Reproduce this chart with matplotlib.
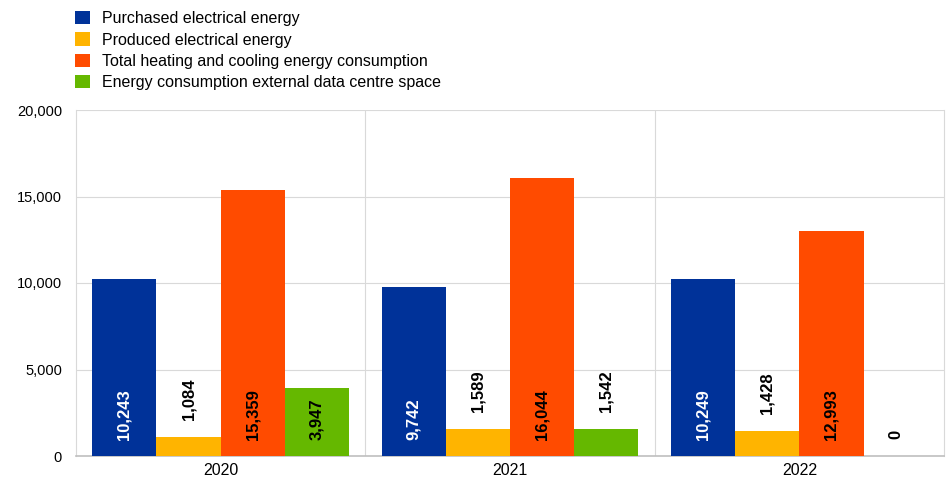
import matplotlib
matplotlib.use("Agg")
import matplotlib.pyplot as plt
from matplotlib.patches import Patch
import numpy as np

plt.rcParams['font.family'] = ['Liberation Sans', 'DejaVu Sans']

years = ["2020", "2021", "2022"]
series_names = [
    "Purchased electrical energy",
    "Produced electrical energy",
    "Total heating and cooling energy consumption",
    "Energy consumption external data centre space",
]
purchased = [10243, 9742, 10249]
produced = [1084, 1589, 1428]
heating = [15359, 16044, 12993]
external = [3947, 1542, 0]
series = [purchased, produced, heating, external]
colors = ["#003299", "#FFB400", "#FF4B00", "#65B800"]
label_colors = ["white", "black", "black", "black"]

fig = plt.figure(figsize=(9.46, 4.84), dpi=100)
ax = fig.add_axes([76/946, 28/484, (944-76)/946, (456-110)/484])

x = np.arange(len(years))
bw = 0.222
n = len(series)
for i, (vals, c, lc) in enumerate(zip(series, colors, label_colors)):
    pos = x + (i - (n-1)/2) * bw
    ax.bar(pos, vals, width=bw, color=c, zorder=3)
    for p, v in zip(pos, vals):
        txt = f"{v:,}"
        if v >= 3000:
            ax.annotate(txt, (p, 0), xytext=(0, 16), textcoords="offset pixels",
                        rotation=90, ha="center", va="bottom", color=lc,
                        fontsize=12, fontweight="bold", zorder=4)
        else:
            ax.annotate(txt, (p, v), xytext=(0, 17), textcoords="offset pixels",
                        rotation=90, ha="center", va="bottom", color="black",
                        fontsize=12, fontweight="bold", zorder=4)

ax.set_xlim(-0.5, len(years) - 0.5)
ax.set_ylim(0, 20000)
ax.set_yticks([0, 5000, 10000, 15000, 20000])
ax.set_yticklabels([f"{t:,}" for t in [0, 5000, 10000, 15000, 20000]], fontsize=10.5)
ax.set_xticks(x)
ax.set_xticklabels(years, fontsize=11.5)
ax.tick_params(axis='y', length=0, pad=10)
ax.tick_params(axis='x', length=0, pad=5)
ax.grid(axis='y', color="#d9d9d9", linewidth=0.8, zorder=0)
for b in [0.5, 1.5]:
    ax.axvline(b, color="#d9d9d9", linewidth=0.8, zorder=0)
for s in ["left", "right"]:
    ax.spines[s].set_color("#d9d9d9")
    ax.spines[s].set_linewidth(0.8)
ax.spines["top"].set_visible(False)
ax.spines["bottom"].set_color("#bfbfbf")
ax.spines["bottom"].set_linewidth(1.2)

handles = [Patch(facecolor=c, edgecolor='none') for c in colors]
fig.legend(handles, series_names, loc="upper left", bbox_to_anchor=(64/946, 1.0),
           frameon=False, fontsize=11.5, handlelength=0.9, handleheight=0.9,
           handletextpad=0.8, labelspacing=0.38, borderaxespad=0.3)

fig.savefig("out.png", dpi=100)
